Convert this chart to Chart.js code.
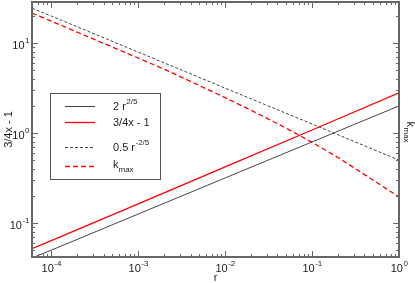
<!DOCTYPE html>
<html>
<head>
<meta charset="utf-8">
<script src="https://cdn.jsdelivr.net/npm/chart.js@4"></script>
<style>
  html, body { margin: 0; padding: 0; background: #fff; }
  #wrap { width: 415px; height: 283px; position: relative; }
</style>
</head>
<body>
<div id="wrap"><canvas id="chart" width="415" height="283"></canvas></div>
<script>
/* values (log-log axes) */
var rGrid        = [6e-5, 1e-4, 1e-3, 1e-2, 1e-1, 1];
var powPos       = [0.041, 0.050, 0.126, 0.317, 0.796, 2.0];   // 2 r^2/5
var powNeg       = [24.3, 19.9, 7.92, 3.15, 1.26, 0.5];        // 0.5 r^-2/5
var inv34        = [0.052, 0.064, 0.163, 0.42, 1.08, 2.79];    // 3/4x - 1
var rKmax        = [6e-5, 6e-4, 2e-3, 5e-3, 0.01, 0.02, 0.056, 0.1, 0.21, 0.46, 1];
var kMax         = [21.5, 8.38, 5.09, 3.38, 2.47, 1.78, 1.07, 0.786, 0.516, 0.317, 0.195];

var xDecades = [-4, -3, -2, -1, 0];
var yDecades = [-1, 0, 1];
var X_MIN = 6e-5, X_MAX = 1, Y_MIN = 0.042, Y_MAX = 28.5;

var FONT = 'Liberation Sans, Arial, sans-serif';

function pts(xs, ys) {
  return xs.map(function (x, i) { return { x: x, y: ys[i] }; });
}

var legendItems = [
  { base: '2 r', sup: '2/5', color: '#444', dash: [], width: 1 },
  { base: '3/4x - 1', sup: '', color: '#ff0000', dash: [], width: 1.3 },
  { base: '0.5 r', sup: '-2/5', color: '#444', dash: [3, 2], width: 1 },
  { base: 'k', sub: 'max', color: '#ff0000', dash: [5, 3], width: 1.3 }
];

function drawPow(ctx, base, sup, x, y, align) {
  ctx.font = '11px ' + FONT;
  var wb = ctx.measureText(base).width;
  ctx.font = '8px ' + FONT;
  var ws = ctx.measureText(sup).width;
  var x0 = align === 'right' ? x - wb - ws : (align === 'center' ? x - (wb + ws) / 2 : x);
  ctx.textAlign = 'left';
  ctx.textBaseline = 'alphabetic';
  ctx.font = '11px ' + FONT;
  ctx.fillText(base, x0, y);
  ctx.font = '8px ' + FONT;
  ctx.fillText(sup, x0 + wb + 0.5, y - 6);
}

var frame = {
  id: 'frame',
  afterDraw: function (chart) {
    var ctx = chart.ctx, a = chart.chartArea;
    var xs = chart.scales.x, ys = chart.scales.y;
    ctx.save();
    ctx.strokeStyle = '#666';
    ctx.fillStyle = '#222';

    /* ticks, inward, on all four sides */
    ctx.lineWidth = 1;
    ctx.beginPath();
    xDecades.concat([-5]).forEach(function (d) {
      for (var m = 1; m <= 9; m++) {
        var v = m * Math.pow(10, d);
        if (v < X_MIN || v > X_MAX) { continue; }
        var px = Math.round(xs.getPixelForValue(v)) + 0.5;
        var len = m === 1 ? 6 : 3;
        ctx.moveTo(px, a.bottom); ctx.lineTo(px, a.bottom - len);
        ctx.moveTo(px, a.top); ctx.lineTo(px, a.top + len);
      }
    });
    [-2, -1, 0, 1].forEach(function (d) {
      for (var m = 1; m <= 9; m++) {
        var v = m * Math.pow(10, d);
        if (v < Y_MIN || v > Y_MAX) { continue; }
        var py = Math.round(ys.getPixelForValue(v)) + 0.5;
        var len = m === 1 ? 6 : 3;
        ctx.moveTo(a.left, py); ctx.lineTo(a.left + len, py);
        ctx.moveTo(a.right, py); ctx.lineTo(a.right - len, py);
      }
    });
    ctx.stroke();

    /* frame */
    ctx.lineWidth = 2;
    ctx.strokeRect(a.left, a.top, a.right - a.left, a.bottom - a.top);

    /* tick labels */
    xDecades.forEach(function (d) {
      drawPow(ctx, '10', String(d), xs.getPixelForValue(Math.pow(10, d)), a.bottom + 15, 'center');
    });
    yDecades.forEach(function (d) {
      drawPow(ctx, '10', String(d), a.left - 3, ys.getPixelForValue(Math.pow(10, d)) + 6, 'right');
    });

    /* axis titles */
    ctx.font = '11px ' + FONT;
    ctx.textAlign = 'center';
    ctx.textBaseline = 'alphabetic';
    ctx.fillText('r', (a.left + a.right) / 2, 281);

    ctx.save();
    ctx.translate(12, (a.top + a.bottom) / 2);
    ctx.rotate(-Math.PI / 2);
    ctx.fillText('3/4x - 1', 0, 0);
    ctx.restore();

    ctx.save();
    ctx.translate(407, (a.top + a.bottom) / 2 - 8);
    ctx.rotate(Math.PI / 2);
    ctx.textAlign = 'left';
    ctx.fillText('k', 0, 0);
    ctx.font = '8px ' + FONT;
    ctx.fillText('max', 6, 3);
    ctx.restore();

    /* legend box */
    ctx.fillStyle = '#fff';
    ctx.fillRect(50, 93, 110, 86);
    ctx.strokeStyle = '#555';
    ctx.lineWidth = 1;
    ctx.strokeRect(50.5, 93.5, 110, 86);
    var rowY = [106, 122, 147, 166];
    legendItems.forEach(function (it, i) {
      var y = rowY[i];
      ctx.beginPath();
      ctx.setLineDash(it.dash);
      ctx.strokeStyle = it.color;
      ctx.lineWidth = it.width;
      ctx.moveTo(65, y + 0.5); ctx.lineTo(95, y + 0.5);
      ctx.stroke();
      ctx.setLineDash([]);
      ctx.fillStyle = '#222';
      if (it.sub) {
        ctx.font = '11px ' + FONT;
        ctx.textAlign = 'left';
        ctx.fillText(it.base, 113, y + 2);
        var w = ctx.measureText(it.base).width;
        ctx.font = '8px ' + FONT;
        ctx.fillText(it.sub, 113 + w, y + 6);
      } else {
        drawPow(ctx, it.base, it.sup, 113, y + 4, 'left');
      }
    });
    ctx.restore();
  }
};

new Chart(document.getElementById('chart'), {
  type: 'line',
  data: {
    datasets: [
      { label: '2 r^2/5', data: pts(rGrid, powPos), borderColor: '#444', borderWidth: 1 },
      { label: '3/4x - 1', data: pts(rGrid, inv34), borderColor: '#ff0000', borderWidth: 1.3 },
      { label: '0.5 r^-2/5', data: pts(rGrid, powNeg), borderColor: '#444', borderWidth: 1, borderDash: [3, 2] },
      { label: 'k_max', data: pts(rKmax, kMax), borderColor: '#ff0000', borderWidth: 1.3, borderDash: [5, 3],
        cubicInterpolationMode: 'monotone' }
    ]
  },
  options: {
    responsive: false,
    animation: false,
    devicePixelRatio: 1,
    layout: { padding: { left: 32, top: 2, right: 16, bottom: 26 } },
    elements: { point: { radius: 0 }, line: { tension: 0 } },
    plugins: { legend: { display: false }, tooltip: { enabled: false } },
    scales: {
      x: {
        type: 'logarithmic', min: X_MIN, max: X_MAX,
        grid: { display: false, drawTicks: false }, border: { display: false },
        ticks: { display: false }
      },
      y: {
        type: 'logarithmic', min: Y_MIN, max: Y_MAX,
        grid: { display: false, drawTicks: false }, border: { display: false },
        ticks: { display: false }
      }
    }
  },
  plugins: [frame]
});
</script>
</body>
</html>
